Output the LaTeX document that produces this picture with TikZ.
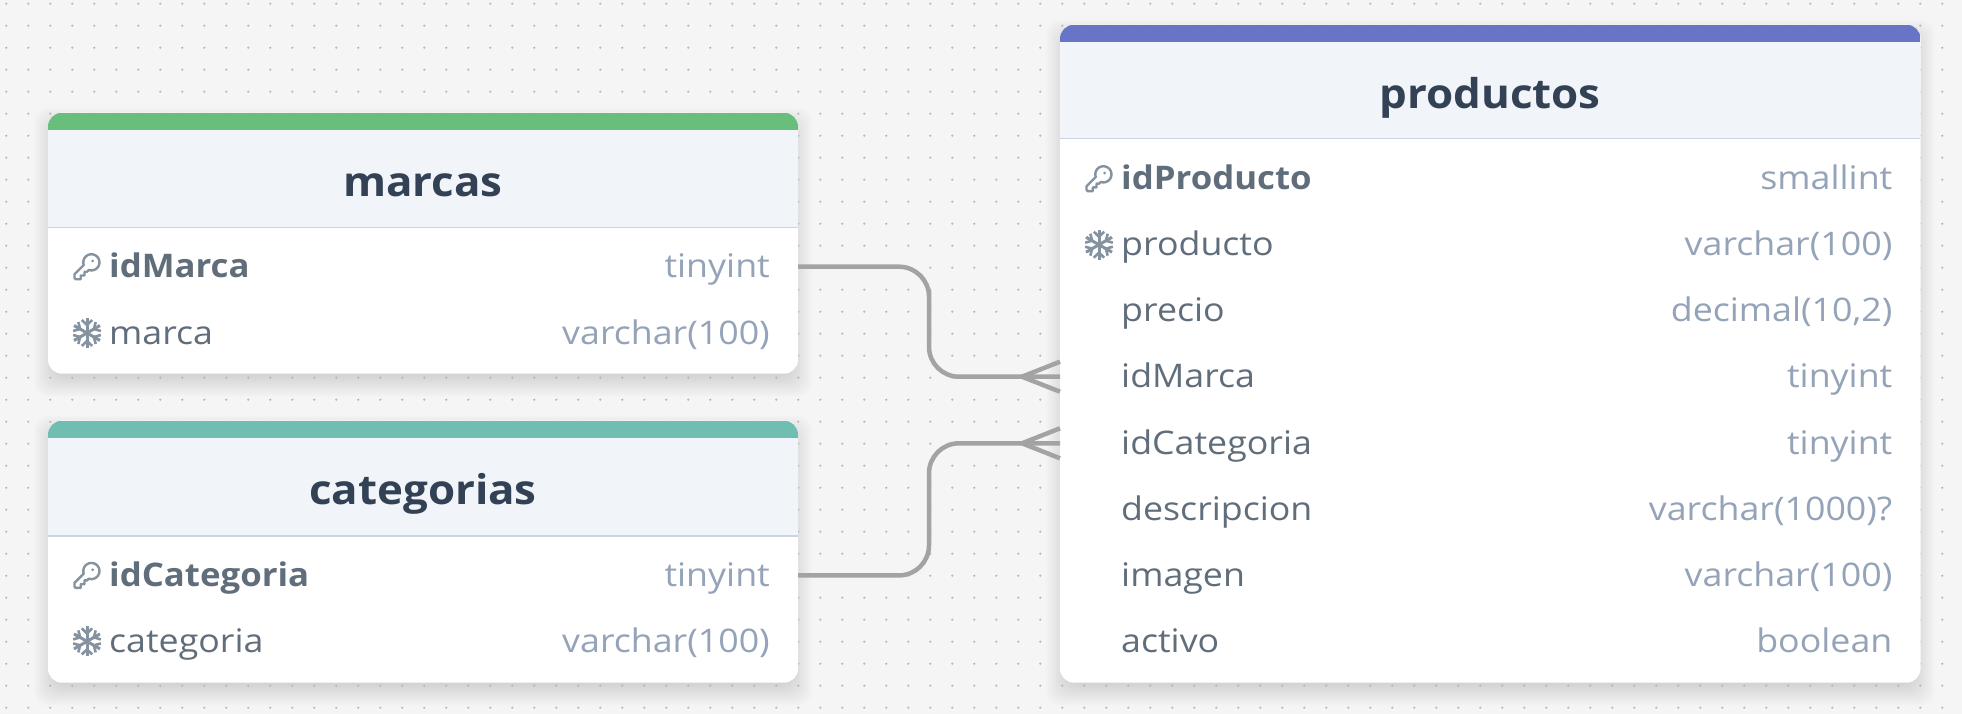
\documentclass[tikz,border=0pt]{standalone}
\usepackage{fontspec}
\setmainfont{Open Sans}[FakeStretch=1.1,BoldFeatures={FakeStretch=1.07}]
\usetikzlibrary{calc}
\definecolor{bgc}{HTML}{F5F5F5}
\definecolor{dotc}{HTML}{B4B4B4}
\definecolor{headc}{HTML}{F1F5F9}
\definecolor{divc}{HTML}{CBD5E1}
\definecolor{titlec}{HTML}{334155}
\definecolor{fieldc}{HTML}{606D7B}
\definecolor{typec}{HTML}{94A3B8}
\definecolor{iconc}{HTML}{8593A1}
\definecolor{linec}{HTML}{A3A3A3}
\definecolor{acca}{HTML}{6ABE7B}
\definecolor{accb}{HTML}{70BDB1}
\definecolor{accc}{HTML}{6875C6}
\tikzset{
  x=1pt,y=-1pt,
  cardbox/.style={fill=white,rounded corners=14pt,inner sep=0pt,outer sep=0pt},
  rowbox/.style={inner sep=0pt,outer sep=0pt,minimum height=66pt},
  titletext/.style={inner sep=0pt,text=titlec,font=\fontsize{41}{48}\selectfont\bfseries,anchor=base},
  keyname/.style={inner sep=0pt,text=fieldc,font=\fontsize{32.5}{38}\selectfont\bfseries,anchor=base west},
  fieldname/.style={inner sep=0pt,text=fieldc,font=\fontsize{32.5}{38}\selectfont,anchor=base west},
  typename/.style={inner sep=0pt,text=typec,font=\fontsize{32.5}{38}\selectfont,anchor=base east},
  conn/.style={draw=linec,line width=4.5pt,rounded corners=30pt},
  crow/.style={draw=linec,line width=4.5pt,line join=miter},
  keyicon/.pic={
    \begin{scope}[scale=1.25,shift={(-12,-12)}]
    \draw[iconc,line width=2.4pt,line cap=round,line join=round]
      (2,18) -- (2,21) -- (3,22) -- (7,22) -- (7,19) -- (10,19) -- (10,16) -- (12,16) -- (13.4,14.6)
      -- plot[domain=109:-199,samples=48,variable=\t] ({15.5+6.45*cos(\t)},{8.5+6.45*sin(\t)}) -- cycle;
    \fill[iconc] (16.5,7.5) circle[radius=1.2];
    \end{scope}
  },
  flakeicon/.pic={
    \foreach \a in {30,90,150,210,270,330}{
      \begin{scope}[rotate=\a]
        \draw[iconc,line width=3pt] (0,0) -- (15,0);
        \draw[iconc,line width=2.6pt] (13,-5.2) -- (8,0) -- (13,5.2);
      \end{scope}}
  }
}
% shadow of a card: left, top, right, bottom
\newcommand{\cardshadow}[4]{%
  \foreach \s in {-6,-4,...,14}{%
    \fill[black,opacity=.011,rounded corners=14pt]
      (#1-\s,#2-\s+9) rectangle (#3+\s,#4+\s+9);}}
% body of a card: name, left, top, right, bottom, accent bottom, divider, colour
\newcommand{\cardbody}[8]{%
  \node[cardbox,minimum width=#4pt-#2pt,minimum height=#5pt-#3pt] (#1) at ({(#2+#4)/2},{(#3+#5)/2}) {};
  \begin{scope}
    \clip[rounded corners=14pt] (#2,#3) rectangle (#4,#5);
    \fill[headc] (#2,#3) rectangle (#4,#7);
    \fill[#8] (#2,#3) rectangle (#4,#6);
    \draw[divc,line width=1.6pt] (#2,#7) -- (#4,#7);
  \end{scope}}
% one row: node name, left, right, centre y, field, type
\newcommand{\keyrow}[6]{%
  \node[rowbox,minimum width=#3pt-#2pt] (#1) at ({(#2+#3)/2},#4) {};
  \pic at (#2+39,#4) {keyicon};
  \node[keyname] at (#2+61,#4+11) {#5};
  \node[typename] at (#3-28,#4+11) {#6};}
\newcommand{\flakerow}[6]{%
  \node[rowbox,minimum width=#3pt-#2pt] (#1) at ({(#2+#3)/2},#4) {};
  \pic at (#2+39,#4) {flakeicon};
  \node[fieldname] at (#2+61,#4+11) {#5};
  \node[typename] at (#3-28,#4+11) {#6};}
\newcommand{\plainrow}[6]{%
  \node[rowbox,minimum width=#3pt-#2pt] (#1) at ({(#2+#3)/2},#4) {};
  \node[fieldname] at (#2+61,#4+11) {#5};
  \node[typename] at (#3-28,#4+11) {#6};}
\begin{document}
\begin{tikzpicture}
\useasboundingbox (0,0) rectangle (1962,714);
\fill[bgc] (0,0) rectangle (1962,714);
\begin{scope}[yshift=-0.7pt]
\cardshadow{48}{112}{798}{373}
\cardshadow{48}{420}{798}{682}
\cardshadow{1060}{24}{1920.5}{682}
\end{scope}
\foreach \i in {0,...,89}{\foreach \j in {0,...,32}{
  \fill[dotc] (6.3+22*\i,3.7+22*\j) circle[radius=1.15];}}
\begin{scope}[yshift=-0.7pt]
\cardbody{marcas}{48}{112}{798}{373}{129}{227}{acca}
\cardbody{categorias}{48}{420}{798}{682}{437}{535}{accb}
\cardbody{productos}{1060}{24}{1920.5}{682}{41}{138}{accc}
\node[titletext] (tm) at (423,195.5) {marcas};
\node[titletext] (tc) at (423,503.5) {categorias};
\node[titletext] (tp) at (1490,107.5) {productos};
\keyrow{m1}{48}{798}{266}{idMarca}{tinyint}
\flakerow{m2}{48}{798}{332.3}{marca}{varchar(100)}
\keyrow{c1}{48}{798}{574.7}{idCategoria}{tinyint}
\flakerow{c2}{48}{798}{640.7}{categoria}{varchar(100)}
\keyrow{p1}{1060}{1920.5}{178}{idProducto}{smallint}
\flakerow{p2}{1060}{1920.5}{244}{producto}{varchar(100)}
\plainrow{p3}{1060}{1920.5}{310}{precio}{decimal(10,2)}
\plainrow{p4}{1060}{1920.5}{376}{idMarca}{tinyint}
\plainrow{p5}{1060}{1920.5}{442.6}{idCategoria}{tinyint}
\plainrow{p6}{1060}{1920.5}{508.3}{descripcion}{varchar(1000)?}
\plainrow{p7}{1060}{1920.5}{574.7}{imagen}{varchar(100)}
\plainrow{p8}{1060}{1920.5}{640.7}{activo}{boolean}
\coordinate (busa) at (929,320);
\coordinate (busb) at (929,500);
\draw[conn] (m1.east) -| (busa) |- (p4.west);
\draw[conn] (c1.east) -| (busb) |- (p5.west);
\draw[crow] ($(p4.west)+(0,-15)$) -- ($(p4.west)+(-38,0)$) -- ($(p4.west)+(0,15)$);
\draw[crow] ($(p5.west)+(0,-15)$) -- ($(p5.west)+(-38,0)$) -- ($(p5.west)+(0,15)$);
\end{scope}
\end{tikzpicture}
\end{document}
